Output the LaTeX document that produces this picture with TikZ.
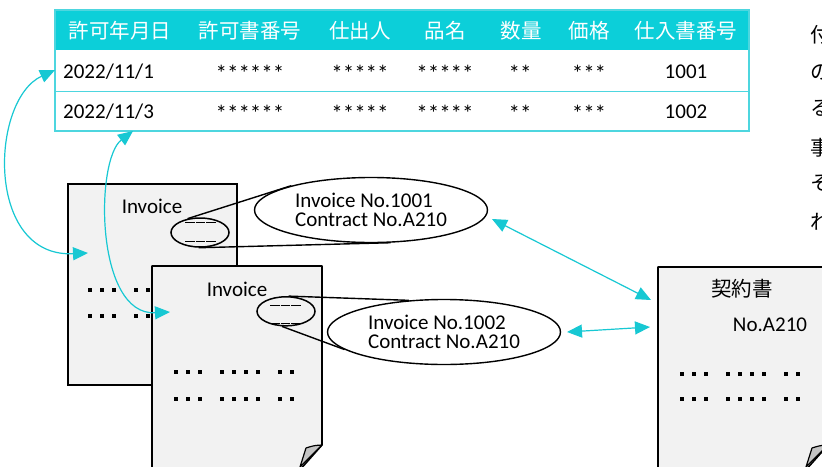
\documentclass[tikz,border=0pt]{standalone}
\usepackage{fontspec}
\setmainfont{Carlito}
\newfontfamily\jp{Noto Sans CJK JP}
\usetikzlibrary{arrows.meta,shapes.geometric}
\definecolor{tealH}{HTML}{0CCFD9}
\definecolor{tealL}{HTML}{4DD6DF}
\definecolor{arrC}{HTML}{17C8D3}
\definecolor{paper}{HTML}{F2F2F2}
\definecolor{flapc}{HTML}{C4C4C4}
\newcommand{\dotrow}[2]{%
  \foreach \o in {0,12,24,46,58,70,82,104,116}{%
    \fill ({#1+\o-1.7},{#2-1.7}) rectangle ({#1+\o+1.7},{#2+1.7});}}
\begin{document}
\begin{tikzpicture}[x=1pt,y=-1pt,
  txt/.style={font=\fontsize{21}{18.5}\selectfont, inner sep=0pt},
  hdr/.style={font=\jp\fontsize{20.5}{22}\selectfont, text=white, inner sep=0pt, anchor=base},
  cell/.style={font=\fontsize{21}{22}\selectfont, inner sep=0pt, anchor=base},
  star/.style={font=\fontsize{23}{24}\selectfont, inner sep=0pt, anchor=base},
  side/.style={font=\jp\fontsize{20.5}{22}\selectfont, inner sep=0pt, anchor=west},
  arr/.style={draw=arrC, line width=1.2pt, {Triangle[length=15pt,width=13pt]}-{Triangle[length=15pt,width=13pt]}},
  docbox/.style={draw=black, line width=1.6pt, fill=paper},
  flapbox/.style={draw=black, line width=1.2pt, fill=flapc, line join=round},
  small/.style={ellipse, draw=black, line width=1.5pt, minimum width=58pt, minimum height=29pt, inner sep=0pt},
  callout/.style={ellipse, draw=black, fill=white, line width=1.4pt, minimum width=233pt, minimum height=65pt, inner sep=0pt, align=left, font=\fontsize{21}{18.5}\selectfont},
  cline/.style={draw=black, line width=1.4pt},
  dashl/.style={line width=0.9pt, dash pattern=on 9.5pt off 1.2pt}]
\clip (0,0) rectangle (822,466);
\fill[white] (0,0) rectangle (822,466);
% ---------- table ----------
\fill[tealH] (55,10) rectangle (749,50);
\draw[tealL, line width=1.3pt] (55,10) rectangle (749,131);
\draw[tealL, line width=1pt] (55,91) -- (749,91);
\node[hdr] (h1) at (120,38) {許可年月日};
\node[hdr] (h2) at (250,38) {許可書番号};
\node[hdr] (h3) at (360,38) {仕出人};
\node[hdr] (h4) at (445,38) {品名};
\node[hdr] (h5) at (521,38) {数量};
\node[hdr] (h6) at (589,38) {価格};
\node[hdr] (h7) at (686,38) {仕入書番号};
\node[cell, anchor=base west] (r1a) at (63,78) {2022/11/1};
\node[star] (r1b) at (250,81) {******};
\node[star] (r1c) at (360,81) {*****};
\node[star] (r1d) at (445,81) {*****};
\node[star] (r1e) at (520,81) {**};
\node[star] (r1f) at (589,81) {***};
\node[cell] (r1g) at (686,78) {1001};
\node[cell, anchor=base west] (r2a) at (63,118) {2022/11/3};
\node[star] (r2b) at (250,121) {******};
\node[star] (r2c) at (360,121) {*****};
\node[star] (r2d) at (445,121) {*****};
\node[star] (r2e) at (520,121) {**};
\node[star] (r2f) at (589,121) {***};
\node[cell] (r2g) at (686,118) {1002};
% ---------- side text (cut off) ----------
\node[side] (j1) at (810,35) {付};
\node[side] (j2) at (810,72) {の};
\node[side] (j3) at (810,108) {る};
\node[side] (j4) at (810,148) {事};
\node[side] (j5) at (810,183) {そ};
\node[side] (j6) at (810,222) {れ};
% ---------- invoice 1 ----------
\draw[docbox] (68,184) rectangle (237,385);
\node[txt, anchor=base] (inv1) at (152,213) {Invoice};
\dotrow{90}{290}
\dotrow{90}{316}
\node[small] (s1) at (200,232.5) {};
\draw[dashl] (185,222) -- (217,222);
\draw[dashl] (185,241) -- (217,241);
\node[callout] (c1) at (371,210) {Invoice No.1001\\Contract No.A210};
\draw[cline] (s1.132) -- (c1.163);
\draw[cline] (s1.265) -- (c1.301);
% ---------- invoice 2 ----------
\draw[docbox, line join=round] (152,266) -- (322,266) -- (322,445) -- (298,472) -- (152,472) -- cycle;
\draw[flapbox] (322,445) .. controls (314,445.5) .. (306,448) -- (300,467) -- cycle;
\node[txt, anchor=base] (inv2) at (237,296) {Invoice};
\dotrow{176}{372}
\dotrow{176}{399}
\node[small] (s2) at (286,311.3) {};
\draw[dashl] (270,305) -- (302,305);
\draw[dashl] (270,323.5) -- (302,323.5);
\node[callout] (c2) at (444,332) {Invoice No.1002\\Contract No.A210};
\draw[cline] (s2.80) -- (c2.138);
\draw[cline] (s2.255) -- (c2.190);
% ---------- contract ----------
\draw[docbox, line join=round] (658,267) -- (828,267) -- (828,445) -- (804,472) -- (658,472) -- cycle;
\draw[flapbox] (828,445) .. controls (820,445.5) .. (812,448) -- (806,467) -- cycle;
\node[txt, font=\jp\fontsize{20.5}{22}\selectfont] (kei) at (742,289) {契約書};
\node[txt, anchor=base] (noa) at (770,331) {No.A210};
\dotrow{682}{374}
\dotrow{682}{399}
% ---------- arrows ----------
\coordinate (t1) at (55,70);
\coordinate (d1) at (88,253);
\coordinate (t2) at (133,131);
\coordinate (d2) at (170,312);
\coordinate (e1) at (492,219);
\coordinate (k1) at (651,300);
\coordinate (e2) at (567,332);
\coordinate (k2) at (650,327);
\draw[arr] (t1) .. controls (-10,100) and (-15,258) .. (d1);
\draw[arr] (t2) .. controls (95,160) and (95,316) .. (d2);
\draw[arr] (e1) -- (k1);
\draw[arr] (e2) -- (k2);
\end{tikzpicture}
\end{document}
